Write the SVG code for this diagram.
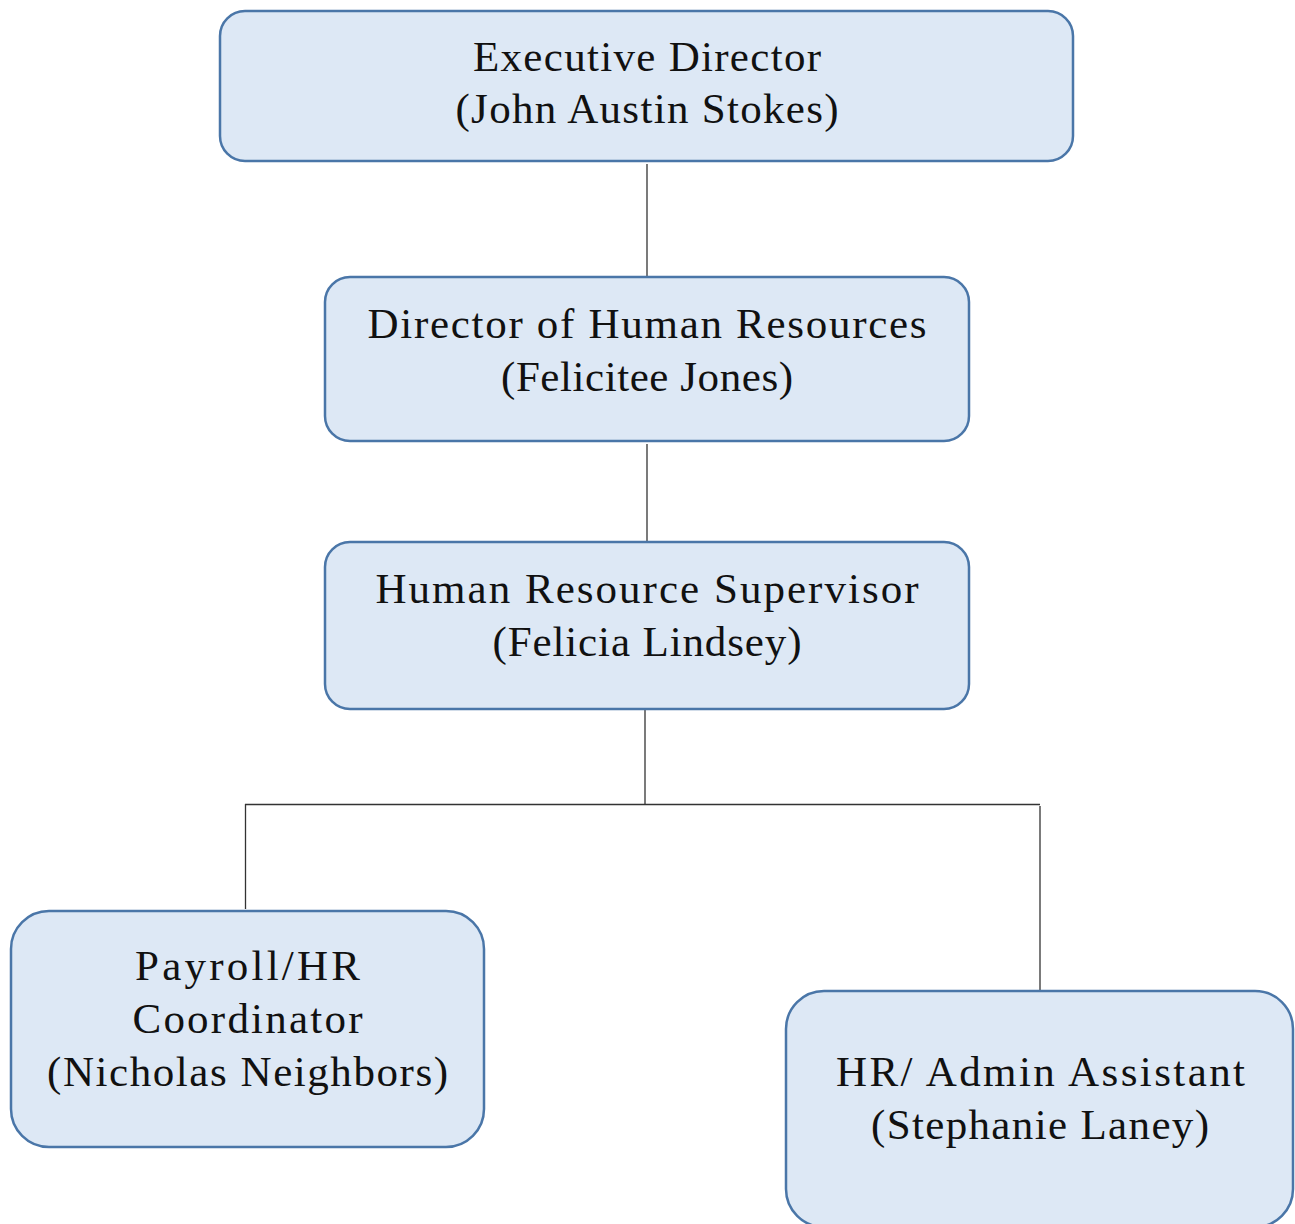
<svg xmlns="http://www.w3.org/2000/svg" width="1295" height="1224" viewBox="0 0 1295 1224">
<style>
.box{fill:#dde8f5;stroke:#4a76a8;stroke-width:2.5}
.t{font-family:"Liberation Serif","DejaVu Serif",serif;font-size:43px;fill:#111;text-anchor:middle}
.c{stroke:#333;stroke-width:1.3;fill:none}
</style>
<rect width="1295" height="1224" fill="#fff"/>
<g id="connectors">
<line class="c" x1="647" y1="164" x2="647" y2="276"/>
<line class="c" x1="647" y1="444" x2="647" y2="541"/>
<line class="c" x1="645" y1="710" x2="645" y2="804"/>
<line class="c" x1="245" y1="804.5" x2="1040" y2="804.5"/>
<line class="c" x1="245.5" y1="804" x2="245.5" y2="909"/>
<line class="c" x1="1040" y1="806" x2="1040" y2="990"/>
</g>
<g id="exec">
<rect class="box" x="220" y="11" width="853" height="150" rx="25"/>
<text class="t" x="647" y="71" textLength="348">Executive Director</text>
<text class="t" x="647" y="123" textLength="383">(John Austin Stokes)</text>
</g>
<g id="dirhr">
<rect class="box" x="325" y="277" width="644" height="164" rx="25"/>
<text class="t" x="647" y="338" textLength="559">Director of Human Resources</text>
<text class="t" x="647" y="391" textLength="292">(Felicitee Jones)</text>
</g>
<g id="supervisor">
<rect class="box" x="325" y="542" width="644" height="167" rx="25"/>
<text class="t" x="647" y="603" textLength="543">Human Resource Supervisor</text>
<text class="t" x="647" y="656" textLength="309">(Felicia Lindsey)</text>
</g>
<g id="payroll">
<rect class="box" x="11" y="911" width="473" height="236" rx="38"/>
<text class="t" x="247.5" y="980" textLength="225">Payroll/HR</text>
<text class="t" x="247.5" y="1033" textLength="230">Coordinator</text>
<text class="t" x="247.5" y="1086" textLength="401">(Nicholas Neighbors)</text>
</g>
<g id="admin">
<rect class="box" x="786" y="991" width="507" height="236" rx="38"/>
<text class="t" x="1040.5" y="1086" textLength="409">HR/ Admin Assistant</text>
<text class="t" x="1040" y="1139" textLength="338">(Stephanie Laney)</text>
</g>
</svg>
